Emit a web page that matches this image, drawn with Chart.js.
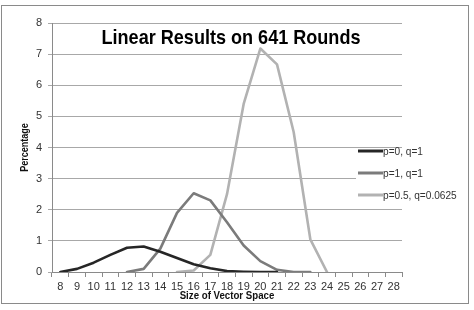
<!DOCTYPE html>
<html>
<head>
<meta charset="utf-8">
<script src="https://cdn.jsdelivr.net/npm/chart.js@4/dist/chart.umd.min.js"></script>
<style>
  html, body { margin: 0; padding: 0; background: #fff; }
  #wrap { width: 474px; height: 310px; position: relative; }
</style>
</head>
<body>
<div id="wrap"><canvas id="c" width="474" height="310"></canvas></div>
<script>
const titleText = "Linear Results on 641 Rounds";
const xTitle = "Size of Vector Space";
const yTitle = "Percentage";
const categories = ["8","9","10","11","12","13","14","15","16","17","18","19","20","21","22","23","24","25","26","27","28"];
const seriesNames = ["p=0, q=1", "p=1, q=1", "p=0.5, q=0.0625"];
const seriesP0 = [0, 0.1, 0.3, 0.55, 0.78, 0.82, 0.65, 0.45, 0.25, 0.12, 0.03, 0.01, 0, 0, null, null, null, null, null, null, null];
const seriesP1 = [null, null, null, null, 0, 0.1, 0.75, 1.9, 2.53, 2.3, 1.6, 0.85, 0.35, 0.07, 0, 0, null, null, null, null, null];
const seriesP05 = [null, null, null, null, null, null, null, 0, 0.05, 0.55, 2.5, 5.4, 7.18, 6.67, 4.5, 1.05, 0, null, null, null, null];
const yTicks = [0, 1, 2, 3, 4, 5, 6, 7, 8];

const colors = ["#262626", "#7b7b7b", "#b2b2b2"];
const FONT = "'Liberation Sans', Arial, sans-serif";

function narrowText(ctx, text, x, y, sx) {
  ctx.save();
  ctx.translate(x, y);
  ctx.scale(sx, 1);
  ctx.fillText(text, 0, 0);
  ctx.restore();
}

const decor = {
  id: 'decor',
  beforeDraw(chart) {
    const ctx = chart.ctx;
    ctx.save();
    ctx.fillStyle = '#fff';
    ctx.fillRect(0, 0, chart.width, chart.height);
    ctx.restore();
  },
  afterDraw(chart) {
    const ctx = chart.ctx;
    const a = chart.chartArea;
    ctx.save();
    // outer border
    ctx.strokeStyle = '#8a8a8a';
    ctx.lineWidth = 1;
    ctx.strokeRect(1.5, 5.5, 467, 298);
    // title
    ctx.fillStyle = '#000';
    ctx.font = "bold 21px " + FONT;
    ctx.textAlign = 'center';
    ctx.textBaseline = 'middle';
    narrowText(ctx, titleText, 231, 38, 0.86);
    // axis titles
    ctx.fillStyle = '#111';
    ctx.font = "bold 11px " + FONT;
    narrowText(ctx, xTitle, 227, 296, 0.88);
    ctx.save();
    ctx.translate(25, (a.top + a.bottom) / 2);
    ctx.rotate(-Math.PI / 2);
    ctx.font = "bold 10px " + FONT;
    narrowText(ctx, yTitle, 0, 0, 0.9);
    ctx.restore();
    // legend
    ctx.fillStyle = '#fff';
    ctx.fillRect(356, 149, 112, 54);
    const rows = [151, 173, 195];
    ctx.font = "11px " + FONT;
    ctx.textAlign = 'left';
    chart.data.datasets.forEach((ds, i) => {
      ctx.strokeStyle = ds.borderColor;
      ctx.lineWidth = 3;
      ctx.beginPath();
      ctx.moveTo(358, rows[i]);
      ctx.lineTo(383, rows[i]);
      ctx.stroke();
      ctx.fillStyle = '#333';
      narrowText(ctx, ds.label, 383, rows[i] + 1, 0.92);
    });
    ctx.restore();
  }
};

new Chart(document.getElementById('c'), {
  type: 'line',
  data: {
    labels: categories,
    datasets: [
      { label: seriesNames[0], data: seriesP0, borderColor: colors[0] },
      { label: seriesNames[1], data: seriesP1, borderColor: colors[1] },
      { label: seriesNames[2], data: seriesP05, borderColor: colors[2] }
    ]
  },
  options: {
    responsive: false,
    animation: false,
    devicePixelRatio: 1,
    spanGaps: false,
    elements: {
      point: { radius: 0 },
      line: { borderWidth: 2.6, tension: 0, fill: false, borderCapStyle: 'round', borderJoinStyle: 'round' }
    },
    layout: { padding: { left: 0, right: 72, top: 23, bottom: 0 } },
    plugins: {
      legend: { display: false },
      title: { display: false },
      tooltip: { enabled: false }
    },
    scales: {
      x: {
        type: 'category',
        offset: true,
        grid: { display: true, drawOnChartArea: false, drawTicks: true, tickLength: 5, offset: true, color: '#8a8a8a' },
        border: { display: true, color: '#8a8a8a', width: 1 },
        ticks: { color: '#333', font: { family: FONT, size: 11 }, padding: 3, maxRotation: 0, autoSkip: false },
        afterFit(s) { s.height = 38; }
      },
      y: {
        min: 0, max: 8,
        afterBuildTicks(s) { s.ticks = yTicks.map(v => ({ value: v })); },
        grid: { color: '#a8a8a8', drawTicks: true, tickLength: 4 },
        border: { display: true, color: '#8a8a8a', width: 1 },
        ticks: { color: '#333', font: { family: FONT, size: 11 }, padding: 6 },
        afterFit(s) { s.width = 52; }
      }
    }
  },
  plugins: [decor]
});
</script>
</body>
</html>
